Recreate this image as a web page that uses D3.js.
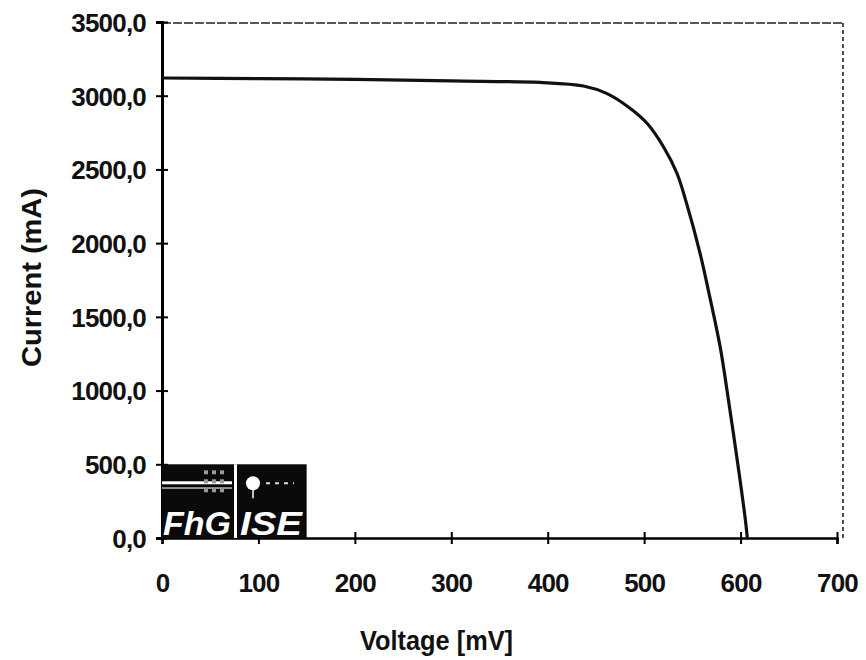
<!DOCTYPE html>
<html lang="en">
<head>
<meta charset="UTF-8">
<title>I-V curve</title>
<script src="https://d3js.org/d3.v7.min.js"></script>
<style>
    body { margin: 0; background: #fff; }
    svg { display: block; }
    .tick text { font-family: "Liberation Sans", Arial, sans-serif; font-weight: bold; font-size: 26px; letter-spacing: -0.8px; fill: #111; }
    .lbl { font-family: "Liberation Sans", Arial, sans-serif; font-weight: bold; font-size: 27px; fill: #111; }
</style>
</head>
<body>
<div id="chart"></div>
<script>
// measured curve (voltage in mV, current in mA)
const voltage = [0, 100, 200, 300, 392, 437, 461, 485, 503, 520, 534, 544, 558, 568, 579, 587, 598, 605, 607];
const current = [3120, 3116, 3111, 3100, 3090, 3066, 3016, 2917, 2813, 2654, 2474, 2270, 1931, 1637, 1290, 955, 461, 122, 0];

const xTicks = [0, 100, 200, 300, 400, 500, 600, 700];
const yTicks = [0, 500, 1000, 1500, 2000, 2500, 3000, 3500];

const W = 866, H = 660;
const margin = {left: 162, right: 29, top: 22, bottom: 122};
const w = W - margin.left - margin.right;
const h = H - margin.top - margin.bottom;

const svg = d3.select("#chart").append("svg")
    .attr("width", W).attr("height", H);

const g = svg.append("g").attr("transform", `translate(${margin.left},${margin.top})`);

const x = d3.scaleLinear().domain([0, 700]).range([0, w]);
const y = d3.scaleLinear().domain([0, 3500]).range([h, 0]);

// frame top / right (dotted in the scan)
g.append("line")
    .attr("x1", 0).attr("x2", w + 6).attr("y1", 1).attr("y2", 1)
    .attr("stroke", "#222").attr("stroke-width", 1.6).attr("stroke-dasharray", "9,2");
g.append("line")
    .attr("x1", w + 6).attr("x2", w + 6).attr("y1", 1).attr("y2", h)
    .attr("stroke", "#222").attr("stroke-width", 1.6).attr("stroke-dasharray", "4,3");

// axes
const xAxis = g.append("g")
    .attr("transform", `translate(0,${h})`)
    .call(d3.axisBottom(x).tickValues(xTicks).tickSize(6).tickPadding(30).tickFormat(d3.format("d")));
xAxis.selectAll(".tick line").attr("y1", -6).attr("stroke-width", 2);
xAxis.select(".domain").attr("stroke-width", 2.5);

const yAxis = g.append("g")
    .call(d3.axisLeft(y).tickValues(yTicks).tickSize(6).tickPadding(10)
        .tickFormat(d => d3.format(".1f")(d).replace(".", ",")));
yAxis.selectAll(".tick line").attr("x1", 6).attr("stroke-width", 2);
yAxis.select(".domain").attr("stroke-width", 3);
yAxis.selectAll(".tick text").attr("dy", "0.36em");

// curve
const line = d3.line()
    .x((d, i) => x(voltage[i]))
    .y(d => y(d))
    .curve(d3.curveCatmullRom.alpha(0.5));

g.append("path")
    .datum(current)
    .attr("d", line)
    .attr("fill", "none")
    .attr("stroke", "#111")
    .attr("stroke-width", 3.2);

// FhG ISE logo
const logo = g.append("g").attr("transform", `translate(${x(0)},${y(500)})`);
const lw = x(150) - x(0), lh = h - y(500);
logo.append("rect").attr("width", lw).attr("height", lh).attr("fill", "#0a0a0a");
logo.append("rect").attr("x", 72).attr("width", 3).attr("height", lh).attr("fill", "#fff");
logo.append("rect").attr("x", 0).attr("y", 17).attr("width", 70).attr("height", 3).attr("fill", "#fff");
logo.append("rect").attr("x", 0).attr("y", 23).attr("width", 70).attr("height", 1.5).attr("fill", "#bbb");
[0, 1, 2].forEach(r => [0, 1, 2].forEach(c => {
    logo.append("rect").attr("x", 42 + c * 8).attr("y", 6 + r * 9)
        .attr("width", 4).attr("height", 4).attr("fill", "#999");
}));
logo.append("circle").attr("cx", 91).attr("cy", 19).attr("r", 7).attr("fill", "#fff");
logo.append("line").attr("x1", 91).attr("x2", 91).attr("y1", 24).attr("y2", 34).attr("stroke", "#fff").attr("stroke-width", 1.5);
logo.append("line").attr("x1", 104).attr("x2", 132).attr("y1", 19).attr("y2", 19)
    .attr("stroke", "#ddd").attr("stroke-width", 2).attr("stroke-dasharray", "4,5");
logo.append("text").attr("x", 1).attr("y", lh - 3)
    .attr("font-family", "Liberation Sans, Arial, sans-serif").attr("font-weight", "bold")
    .attr("font-style", "italic").attr("font-size", 34)
    .attr("textLength", 68).attr("lengthAdjust", "spacingAndGlyphs")
    .attr("fill", "#fff").text("FhG");
logo.append("text").attr("x", 78).attr("y", lh - 3)
    .attr("font-family", "Liberation Sans, Arial, sans-serif").attr("font-weight", "bold")
    .attr("font-style", "italic").attr("font-size", 34)
    .attr("textLength", 62).attr("lengthAdjust", "spacingAndGlyphs")
    .attr("fill", "#fff").text("ISE");

// axis titles
svg.append("text").attr("class", "lbl")
    .attr("x", 360).attr("y", 650)
    .attr("textLength", 153).attr("lengthAdjust", "spacingAndGlyphs")
    .text("Voltage [mV]");
svg.append("text").attr("class", "lbl")
    .attr("transform", "translate(41,367) rotate(-90)")
    .attr("textLength", 179).attr("lengthAdjust", "spacingAndGlyphs")
    .text("Current (mA)");
</script>
</body>
</html>
